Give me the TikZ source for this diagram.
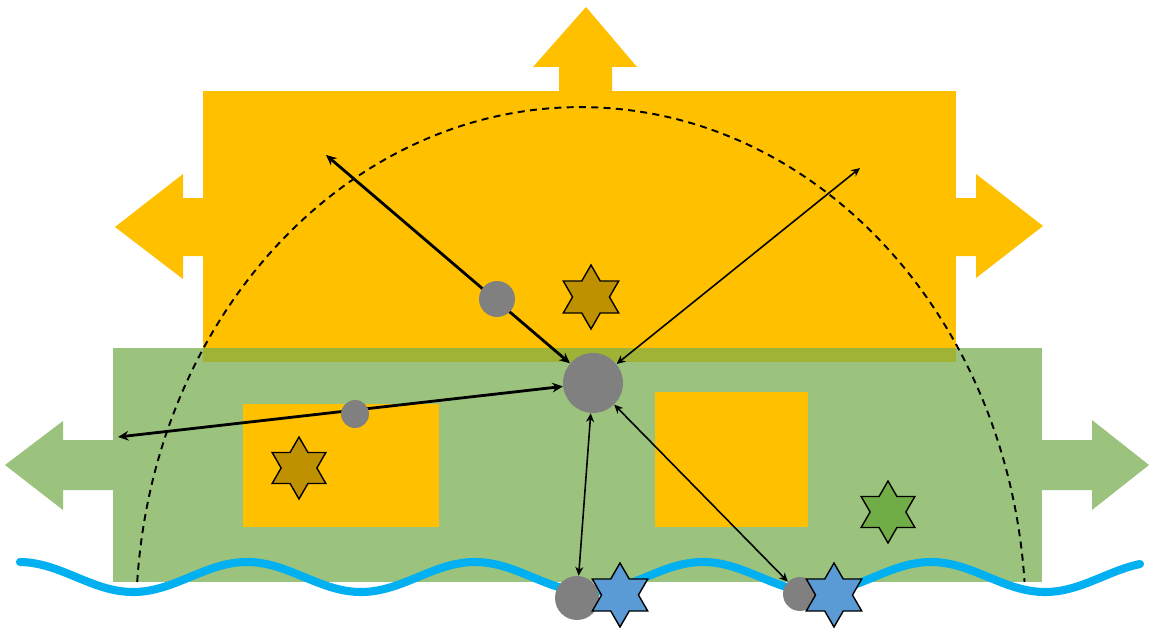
\documentclass[tikz,border=0pt]{standalone}
\usetikzlibrary{arrows.meta,shapes.geometric}
\definecolor{amber}{HTML}{FFC000}
\definecolor{leaf}{HTML}{9BC37D}
\definecolor{olive}{HTML}{A0B336}
\definecolor{stone}{HTML}{808080}
\definecolor{gold}{HTML}{BF9000}
\definecolor{moss}{HTML}{70AD47}
\definecolor{sky}{HTML}{5B9BD5}
\definecolor{stream}{HTML}{00B0F0}
\pgfdeclarelayer{bg}
\pgfdeclarelayer{links}
\pgfsetlayers{bg,links,main}
\tikzset{
  dot/.style={circle,fill=stone,inner sep=0pt,minimum size=#1},
  hexstar/.style={star,star points=6,star point ratio=1.732,inner sep=0pt,
    minimum size=#1,draw=black,line width=0.8pt},
  heavy/.style={line width=1.6pt,{Stealth[length=6pt,width=5.5pt]}-{Stealth[length=6pt,width=5.5pt]}},
  light/.style={line width=0.9pt,{Stealth[length=5pt,width=4.6pt]}-{Stealth[length=5pt,width=4.6pt]}},
  guide/.style={line width=1.1pt,dash pattern=on 4pt off 3pt},
  stroke/.style={line width=4.6pt,color=stream,line cap=round}
}
\begin{document}
\begin{tikzpicture}[x=0.02cm,y=-0.02cm]
\useasboundingbox (0,0) rectangle (1150,635);

% building blocks, flow arrows, wave and reach boundary
\begin{pgfonlayer}{bg}
  \fill[white] (0,0) rectangle (1150,635);
  % upper block with its three outward arrows
  \fill[amber] (203,91) rectangle (956,362);
  \fill[amber] (559,92) -- (559,67) -- (533,67) -- (586,7) -- (637,67) -- (612,67) -- (612,92) -- cycle;
  \fill[amber] (204,198) -- (183,198) -- (183,174) -- (115,227) -- (183,279) -- (183,256) -- (204,256) -- cycle;
  \fill[amber] (955,198) -- (976,198) -- (976,174) -- (1043,226) -- (976,278) -- (976,256) -- (955,256) -- cycle;
  % lower block with its two outward arrows
  \fill[leaf] (113,348) rectangle (1042,582);
  \fill[leaf] (114,440) -- (63,440) -- (63,421) -- (5,465) -- (63,510) -- (63,490) -- (114,490) -- cycle;
  \fill[leaf] (1041,440) -- (1092,440) -- (1092,420) -- (1149,465) -- (1092,510) -- (1092,490) -- (1041,490) -- cycle;
  % overlap strip
  \fill[olive] (203,348) rectangle (956,362);
  % inner compartments
  \fill[amber] (243,404) rectangle (439,527);
  \fill[amber] (655,392) rectangle (808,527);
  % water line
  \draw[stroke] plot[domain=20:1140,samples=220,smooth] (\x,{577+15*cos(1.5789*(\x-133))});
  % dashed reach boundary, cut off at the ground line
  \draw[guide] (137.2,582) arc[start angle=175.75,end angle=4.25,x radius=8.9cm,y radius=10.26cm];
\end{pgfonlayer}

% particles
\node[dot=1.2cm]  (hub) at (593,383) {};
\node[dot=0.72cm] (mid) at (497,299) {};
\node[dot=0.56cm] (sml) at (355,414) {};
\node[dot=0.88cm] (pb1) at (577,598) {};
\node[dot=0.68cm] (pb2) at (800,594) {};

% stars
\node[hexstar=1.28cm,fill=gold] (s1) at (591,297) {};
\node[hexstar=1.24cm,fill=gold] (s2) at (299,468) {};
\node[hexstar=1.24cm,fill=moss] (s3) at (888,512) {};
\node[hexstar=1.28cm,fill=sky]  (s4) at (620,595) {};
\node[hexstar=1.28cm,fill=sky]  (s5) at (834,595) {};

% free ends of the rays
\coordinate (ul) at (326,155);
\coordinate (ur) at (860,168);
\coordinate (lf) at (118,437);

\begin{pgfonlayer}{links}
  \draw[heavy] (ul) -- (hub);
  \draw[light] (ur) -- (hub);
  \draw[heavy] (lf) -- (hub);
  \draw[light] (hub) -- (pb1);
  \draw[light] (hub) -- (pb2);
\end{pgfonlayer}
\end{tikzpicture}
\end{document}
